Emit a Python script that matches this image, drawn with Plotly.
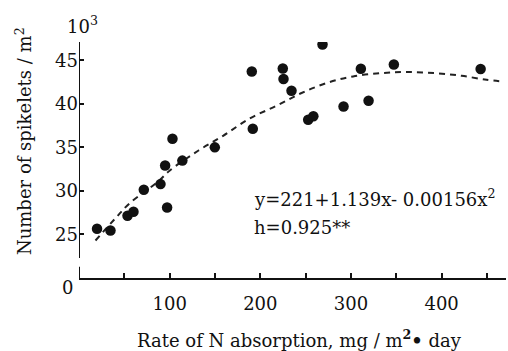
import plotly.graph_objects as go

# Observed data (N absorption rate, spikelets x10^3 / m^2)
n_rate = [19.9, 34.7, 53.5, 60.1, 71.5, 89.9, 95.0, 97.2, 103.1, 114.0,
          149.8, 190.6, 191.7, 224.8, 225.6, 234.4, 252.8, 258.5, 268.6,
          291.8, 310.9, 319.4, 347.3, 443.0]
spikelets = [25.65, 25.45, 27.15, 27.6, 30.13, 30.78, 32.92, 28.1, 35.99, 33.48,
             35.0, 43.72, 37.14, 44.06, 42.85, 41.5, 38.17, 38.57, 46.82,
             39.70, 44.03, 40.35, 44.52, 43.99]

# Fitted curve as drawn
curve_x = [18.2, 41.3, 56.0, 87.2, 100.2, 131.4, 159.0, 188.4, 217.9, 245.5,
           274.8, 302.4, 333.7, 361.3, 392.6, 422.0, 449.6, 466.8]
curve_y = [24.31, 26.99, 28.60, 31.08, 32.35, 34.61, 36.33, 38.32, 39.78, 41.24,
           42.45, 43.14, 43.53, 43.65, 43.53, 43.22, 42.76, 42.57]

x_tickvals = [100, 200, 300, 400]
x_ticktext = ["100", "200", "300", "400"]
x_minorvals = [50, 150, 250, 350, 450]
y_tickvals = [25, 30, 35, 40, 45]
y_ticktext = ["25", "30", "35", "40", "45"]

FONT = "DejaVu Serif"
INK = "#111111"
FS = 18

fig = go.Figure()
fig.add_trace(go.Scatter(x=curve_x, y=curve_y, mode="lines",
                         line=dict(color="#222222", width=2, dash="6px,5px", shape="spline"),
                         hoverinfo="skip", showlegend=False))
fig.add_trace(go.Scatter(x=n_rate, y=spikelets, mode="markers",
                         marker=dict(color=INK, size=10.5),
                         showlegend=False))

fig.update_layout(
    width=508, height=351,
    margin=dict(l=79, r=2, t=42, b=73),
    paper_bgcolor="white", plot_bgcolor="white",
    font=dict(family=FONT, size=FS, color=INK),
    xaxis=dict(range=[0, 471], tickmode="array", tickvals=x_tickvals, ticktext=x_ticktext,
               ticks="inside", ticklen=5, tickwidth=1.5, tickcolor=INK,
               minor=dict(tickmode="array", tickvals=x_minorvals, ticks="inside",
                          ticklen=5, tickwidth=1.5, tickcolor=INK, showgrid=False),
               showline=True, linecolor=INK, linewidth=2,
               showgrid=False, zeroline=False, ticklabelstandoff=8,
               tickfont=dict(family=FONT, size=FS, color=INK)),
    yaxis=dict(range=[20, 47.1], tickvals=y_tickvals, ticktext=y_ticktext,
               ticks="inside", ticklen=5, tickwidth=1.5, tickcolor=INK,
               showline=False, showgrid=False, zeroline=False,
               tickfont=dict(family=FONT, size=FS, color=INK)),
    shapes=[
        dict(type="line", xref="x", yref="y", x0=0, x1=0, y0=22.3, y1=47.1,
             line=dict(color=INK, width=2)),
        dict(type="line", xref="x", yref="y", x0=0, x1=0, y0=20, y1=21.3,
             line=dict(color=INK, width=2)),
    ],
    annotations=[
        dict(text="Number of spikelets / m<sup>2</sup>", textangle=-90,
             xref="paper", yref="paper", x=-0.129, y=0.58, showarrow=False,
             xanchor="center", yanchor="middle", font=dict(size=FS)),
        dict(text="Rate of N absorption, mg / m<b><sup>2</sup>•</b> day",
             xref="paper", yref="paper", x=0.517, y=-0.258, showarrow=False,
             xanchor="center", yanchor="middle", font=dict(size=FS)),
        dict(text="10<sup>3</sup>", xref="paper", yref="paper", x=0.009, y=1.072,
             showarrow=False, xanchor="center", yanchor="middle", font=dict(size=FS)),
        dict(text="0", xref="paper", yref="paper", x=-0.026, y=-0.042,
             showarrow=False, xanchor="center", yanchor="middle", font=dict(size=FS)),
        dict(text="y=221+1.139x- 0.00156x<sup>2</sup>", xref="paper", yref="paper",
             x=0.405, y=0.339, showarrow=False, xanchor="left", yanchor="middle",
             font=dict(size=FS)),
        dict(text="h=0.925**", xref="paper", yref="paper",
             x=0.405, y=0.212, showarrow=False, xanchor="left", yanchor="middle",
             font=dict(size=FS)),
    ],
)

fig.write_html("out.html")
